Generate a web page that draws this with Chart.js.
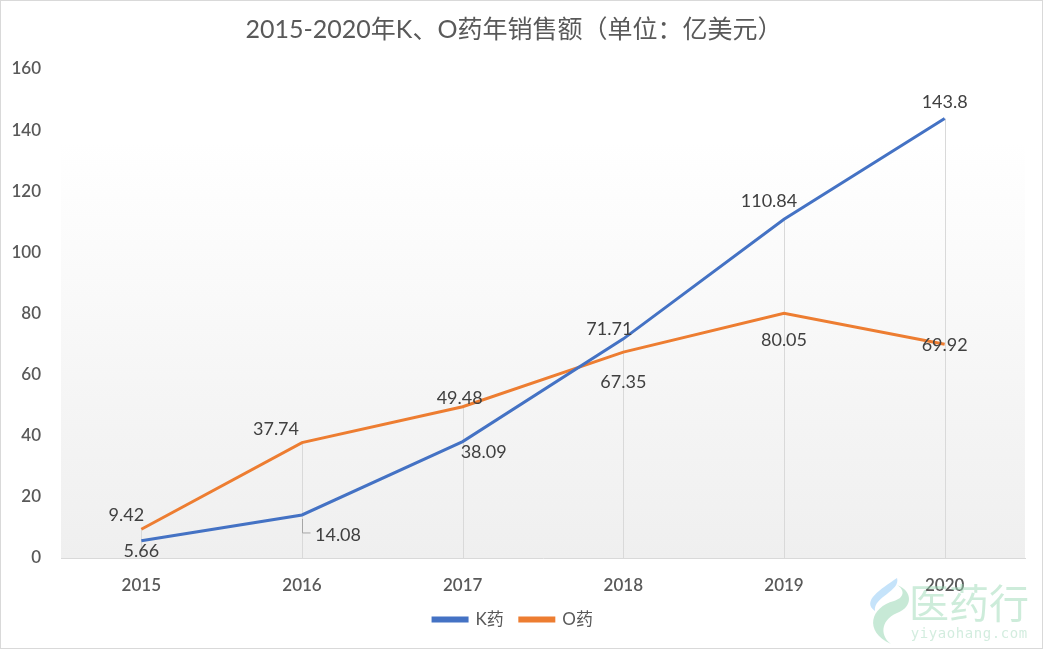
<!DOCTYPE html>
<html>
<head>
<meta charset="utf-8">
<script src="https://cdn.jsdelivr.net/npm/chart.js@4.4.1/dist/chart.umd.min.js"></script>
<style>
  html, body { margin: 0; padding: 0; background: #fff; }
  #wrap { width: 1043px; height: 649px; position: relative; box-sizing: border-box; border: 1px solid #d9d9d9; }
</style>
</head>
<body>
<div id="wrap"><canvas id="salesChart"></canvas></div>
<script>
const years = ['2015', '2016', '2017', '2018', '2019', '2020'];
const kSales = [5.66, 14.08, 38.09, 71.71, 110.84, 143.8];
const oSales = [9.42, 37.74, 49.48, 67.35, 80.05, 69.92];
const yTicks = [0, 20, 40, 60, 80, 100, 120, 140, 160];

const titleText = '2015-2020年K、O药年销售额（单位：亿美元）';
const FONT = 'Lato, "Noto Sans CJK SC", sans-serif';

// label offsets (px) relative to each point
const kOffsets = [[0, 10], [36, 20], [21, 11], [-14, -10], [-15, -18], [0, -16]];
const oOffsets = [[-15, -14], [-26, -13], [-3, -9], [0, 30], [0, 27], [0, 1]];

const decor = {
    id: 'decor',
    beforeDraw(chart) {
        const { ctx, chartArea: a } = chart;
        const g = ctx.createLinearGradient(0, a.top, 0, a.bottom);
        g.addColorStop(0, '#ffffff');
        g.addColorStop(0.15, '#ffffff');
        g.addColorStop(1, '#efefef');
        ctx.save();
        ctx.fillStyle = g;
        ctx.fillRect(a.left, a.top, a.right - a.left, a.bottom - a.top);
        ctx.restore();
    },
    beforeDatasetsDraw(chart) {
        // drop lines
        const { ctx } = chart;
        const x = chart.scales.x, y = chart.scales.y;
        ctx.save();
        ctx.strokeStyle = '#d9d9d9';
        ctx.lineWidth = 1;
        years.forEach((yr, i) => {
            const px = Math.round(x.getPixelForValue(i)) + 0.5;
            const top = y.getPixelForValue(Math.max(kSales[i], oSales[i]));
            ctx.beginPath();
            ctx.moveTo(px, y.getPixelForValue(0));
            ctx.lineTo(px, top);
            ctx.stroke();
        });
        ctx.restore();
    },
    afterDatasetsDraw(chart) {
        const { ctx } = chart;
        const x = chart.scales.x, y = chart.scales.y;
        ctx.save();
        // leader line for 14.08
        const lx = Math.round(x.getPixelForValue(1)) + 0.5;
        const ly = y.getPixelForValue(kSales[1]);
        ctx.strokeStyle = '#a6a6a6';
        ctx.lineWidth = 1;
        ctx.beginPath();
        ctx.moveTo(lx, ly + 4);
        ctx.lineTo(lx, ly + 18);
        ctx.lineTo(lx + 8, ly + 18);
        ctx.stroke();

        ctx.font = '18px ' + FONT;
        ctx.fillStyle = '#404040';
        ctx.textAlign = 'center';
        ctx.textBaseline = 'middle';
        const draw = (vals, offs) => vals.forEach((v, i) => {
            ctx.fillText(String(v), x.getPixelForValue(i) + offs[i][0], y.getPixelForValue(v) + offs[i][1]);
        });
        draw(kSales, kOffsets);
        draw(oSales, oOffsets);

        // title
        ctx.font = '25px ' + FONT;
        ctx.fillStyle = '#595959';
        ctx.fillText(titleText, 513, 29);
        ctx.restore();
    },
    afterDraw(chart) {
        // watermark
        const { ctx } = chart;
        ctx.save();
        ctx.globalAlpha = 0.5;
        ctx.fillStyle = '#8fd4ae';
        ctx.beginPath();
        ctx.moveTo(890, 643);
        ctx.bezierCurveTo(862, 630, 870, 606, 893, 600);
        ctx.bezierCurveTo(905, 596, 903, 588, 896, 584);
        ctx.bezierCurveTo(912, 590, 912, 606, 896, 612);
        ctx.bezierCurveTo(878, 620, 880, 636, 890, 643);
        ctx.fill();
        ctx.fillStyle = '#8cc8f5';
        ctx.beginPath();
        ctx.moveTo(896, 577);
        ctx.bezierCurveTo(900, 590, 872, 596, 874, 610);
        ctx.bezierCurveTo(860, 600, 880, 588, 896, 577);
        ctx.fill();
        ctx.fillStyle = '#9bd9b6';
        ctx.font = '40px "Noto Sans CJK SC", sans-serif';
        ctx.textAlign = 'left';
        ctx.textBaseline = 'middle';
        ctx.fillText('医药行', 908, 602);
        ctx.font = '14px "DejaVu Sans Mono", monospace';
        ctx.fillStyle = '#a8dcbf';
        ctx.textAlign = 'center';
        'yiyaohang.com'.split('').forEach((c, i) => ctx.fillText(c, 914 + i * 9, 633));
        ctx.restore();
    }
};

new Chart(document.getElementById('salesChart'), {
    type: 'line',
    data: {
        labels: years,
        datasets: [
            { label: 'K药', data: kSales, borderColor: '#4472C4', backgroundColor: '#4472C4', borderWidth: 3, pointRadius: 0, tension: 0 },
            { label: 'O药', data: oSales, borderColor: '#ED7D31', backgroundColor: '#ED7D31', borderWidth: 3, pointRadius: 0, tension: 0 },
        ],
    },
    options: {
        responsive: true,
        maintainAspectRatio: false,
        animation: false,
        layout: { padding: { top: 68, right: 17, bottom: 10, left: 0 } },
        plugins: {
            legend: {
                position: 'bottom',
                labels: {
                    font: { family: FONT, size: 17 },
                    color: '#595959',
                    boxWidth: 34,
                    boxHeight: 3,
                    padding: 16,
                },
            },
            tooltip: { enabled: false },
        },
        scales: {
            x: {
                offset: true,
                grid: { display: false },
                border: { color: '#d9d9d9' },
                ticks: { font: { family: FONT, size: 17, weight: '600' }, color: '#595959', padding: 9 },
                afterFit(s) { s.height = 37; },
            },
            y: {
                min: 0,
                max: 160,
                afterBuildTicks(s) { s.ticks = yTicks.map((v) => ({ value: v })); },
                grid: { display: false },
                border: { display: false },
                ticks: { font: { family: FONT, size: 17, weight: '600' }, color: '#595959', padding: 12 },
                afterFit(s) { s.width = 60; },
            },
        },
    },
    plugins: [decor],
});
</script>
</body>
</html>
